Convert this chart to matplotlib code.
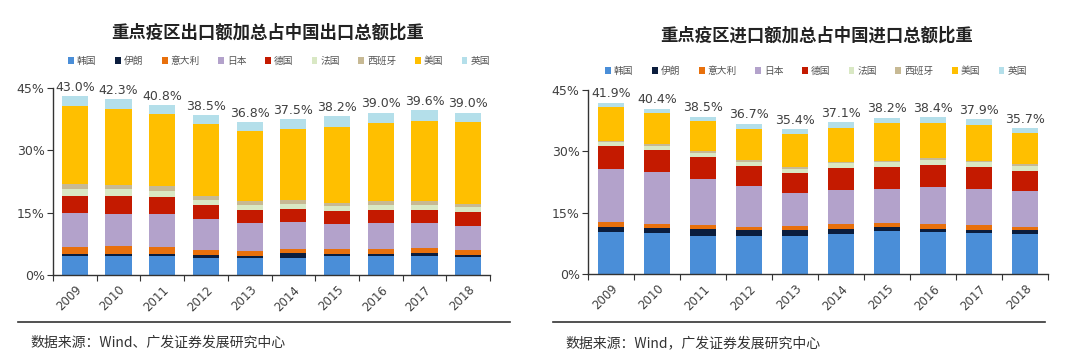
import numpy as np
import matplotlib.pyplot as plt
from matplotlib.patches import Patch

plt.rcParams['font.family'] = ['Noto Sans CJK SC', 'DejaVu Sans']

years = ['2009', '2010', '2011', '2012', '2013', '2014', '2015', '2016', '2017', '2018']
countries = ['韩国', '伊朗', '意大利', '日本', '德国', '法国', '西班牙', '美国', '英国']
colors = ['#4a8ed8', '#0b1d3d', '#e8700c', '#b3a2cb', '#c41a00', '#d9e8c4', '#c7b994', '#ffbf00', '#b4dfea']

# 出口占比 (%)
exp_korea = [4.6, 4.6, 4.6, 4.2, 4.0, 4.2, 4.6, 4.6, 4.6, 4.3]
exp_iran = [0.5, 0.4, 0.45, 0.5, 0.5, 1.0, 0.5, 0.5, 0.6, 0.5]
exp_italy = [1.6, 1.9, 1.65, 1.2, 1.2, 1.1, 1.2, 1.2, 1.4, 1.3]
exp_japan = [8.1, 7.7, 7.9, 7.5, 6.9, 6.5, 5.9, 6.1, 5.8, 5.8]
exp_germany = [4.3, 4.5, 4.2, 3.4, 3.1, 3.2, 3.2, 3.3, 3.3, 3.3]
exp_france = [1.7, 1.5, 1.5, 1.2, 1.1, 1.2, 1.1, 1.1, 1.2, 1.2]
exp_spain = [1.1, 1.1, 1.0, 0.9, 0.9, 0.9, 0.9, 1.0, 1.0, 0.8]
exp_us = [18.8, 18.3, 17.4, 17.5, 16.9, 17.1, 18.3, 18.7, 19.1, 19.6]
exp_uk = [2.3, 2.3, 2.1, 2.1, 2.2, 2.3, 2.5, 2.5, 2.6, 2.2]
exp_total = [43.0, 42.3, 40.8, 38.5, 36.8, 37.5, 38.2, 39.0, 39.6, 39.0]

# 进口占比 (%)
imp_korea = [10.2, 10.0, 9.4, 9.4, 9.4, 9.8, 10.6, 10.3, 10.0, 9.8]
imp_iran = [1.4, 1.2, 1.7, 1.3, 1.4, 1.3, 0.9, 0.8, 0.8, 0.9]
imp_italy = [1.2, 1.1, 0.9, 0.9, 1.0, 1.1, 0.9, 1.1, 1.2, 0.9]
imp_japan = [12.8, 12.6, 11.2, 9.8, 8.1, 8.4, 8.5, 9.0, 8.8, 8.6]
imp_germany = [5.6, 5.4, 5.4, 5.0, 4.9, 5.3, 5.2, 5.5, 5.3, 4.9]
imp_france = [1.0, 1.0, 1.1, 1.1, 0.9, 1.2, 1.2, 1.2, 1.2, 1.4]
imp_spain = [0.4, 0.4, 0.4, 0.4, 0.4, 0.4, 0.4, 0.4, 0.4, 0.4]
imp_us = [8.2, 7.6, 7.2, 7.6, 8.1, 8.1, 9.2, 8.7, 8.8, 7.5]
imp_uk = [1.1, 1.1, 1.2, 1.2, 1.2, 1.5, 1.3, 1.4, 1.4, 1.3]
imp_total = [41.9, 40.4, 38.5, 36.7, 35.4, 37.1, 38.2, 38.4, 37.9, 35.7]

exp_series = [exp_korea, exp_iran, exp_italy, exp_japan, exp_germany,
              exp_france, exp_spain, exp_us, exp_uk]
imp_series = [imp_korea, imp_iran, imp_italy, imp_japan, imp_germany,
              imp_france, imp_spain, imp_us, imp_uk]

fig = plt.figure(figsize=(10.8, 3.62), dpi=100)
fig.patch.set_facecolor('white')


def draw_panel(rect, series, totals, width, title, title_xy, legend_xy, source, line_x):
    ax = fig.add_axes(rect)
    x = np.arange(len(years))
    bottom = np.zeros(len(years))
    for vals, c in zip(series, colors):
        ax.bar(x, vals, width, bottom=bottom, color=c, edgecolor='none', zorder=2)
        bottom += np.array(vals)
    # 总额标签
    for xi, t, b in zip(x, totals, bottom):
        ax.text(xi, b + 0.6, f'{t:.1f}%', ha='center', va='bottom',
                fontsize=9, color='#404040', family='DejaVu Sans')

    ax.set_xlim(-0.5, len(years) - 0.5)
    ax.set_ylim(0, 45)
    ax.set_yticks([0, 15, 30, 45])
    ax.set_yticklabels(['0%', '15%', '30%', '45%'], fontsize=9, color='#404040',
                       family='DejaVu Sans')
    ax.set_xticks(np.arange(-0.5, len(years), 1.0))
    ax.set_xticklabels([])
    ax.set_xticks(x, minor=True)
    ax.set_xticklabels(years, minor=True, rotation=45, ha='right',
                       rotation_mode='anchor', fontsize=8.5, color='#404040',
                       family='DejaVu Sans')
    ax.tick_params(axis='x', which='minor', length=0, pad=6)
    ax.tick_params(axis='x', which='major', length=4, direction='out', color='#333333')
    ax.tick_params(axis='y', length=4, direction='out', color='#333333', pad=2)
    for s in ['top', 'right']:
        ax.spines[s].set_visible(False)
    for s in ['left', 'bottom']:
        ax.spines[s].set_color('#333333')
        ax.spines[s].set_linewidth(1.0)

    fig.text(title_xy[0] / 1080, 1 - title_xy[1] / 362, title, ha='center', va='center',
             fontsize=12.5, fontweight='bold', color='#222222')

    handles = [Patch(facecolor=c, edgecolor='none') for c in colors]
    fig.legend(handles, countries, loc='center',
               bbox_to_anchor=(legend_xy[0] / 1080, 1 - legend_xy[1] / 362),
               ncol=9, frameon=False, fontsize=7, handlelength=0.6, handleheight=0.6,
               handletextpad=0.3, columnspacing=1.9, labelcolor='#555555')

    fig.add_artist(plt.Line2D([line_x[0] / 1080, line_x[1] / 1080],
                              [1 - 322 / 362, 1 - 322 / 362],
                              color='#333333', linewidth=1.2))
    fig.text((line_x[0] + 12) / 1080, 1 - 343 / 362, source, ha='left', va='center',
             fontsize=10, color='#333333')
    return ax


draw_panel([53 / 1080, 1 - 275 / 362, 437 / 1080, 187 / 362],
           exp_series, exp_total, 0.6,
           '重点疫区出口额加总占中国出口总额比重', (268, 33), (279, 61),
           '数据来源：Wind、广发证券发展研究中心', (18, 510))

draw_panel([588 / 1080, 1 - 274 / 362, 460 / 1080, 184 / 362],
           imp_series, imp_total, 0.55,
           '重点疫区进口额加总占中国进口总额比重', (817, 36), (816, 71),
           '数据来源：Wind，广发证券发展研究中心', (553, 1045))

fig.savefig('out.png', dpi=100, facecolor='white')
